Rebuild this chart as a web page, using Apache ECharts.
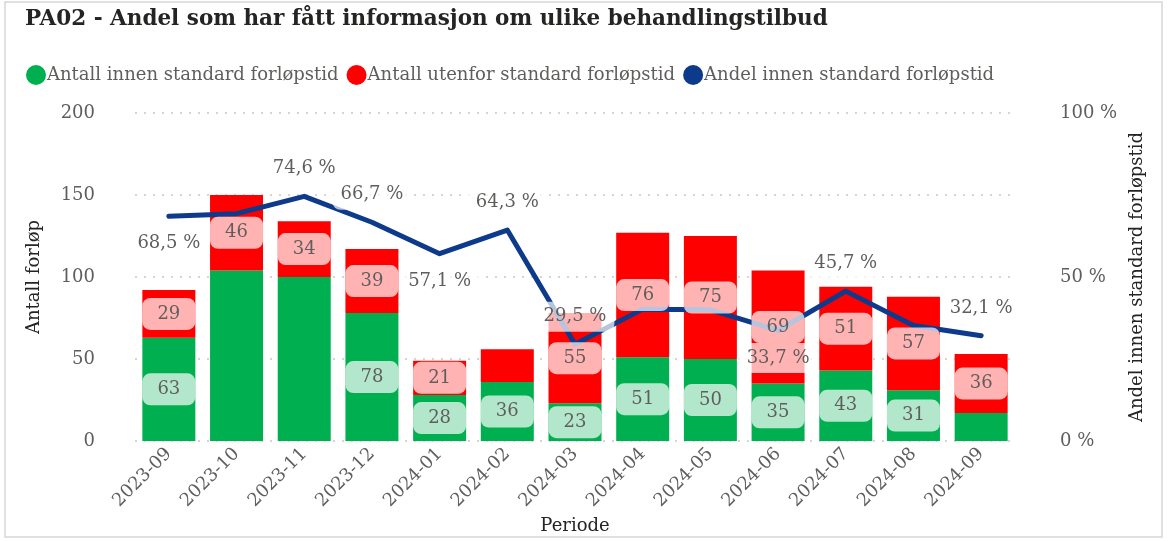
<!DOCTYPE html>
<html>
<head>
<meta charset="utf-8">
<script src="https://cdn.jsdelivr.net/npm/echarts@6/dist/echarts.min.js"></script>
<style>
  html, body { margin: 0; padding: 0; background: #fff; }
  #main { width: 1170px; height: 541px; }
</style>
</head>
<body>
<div id="main"></div>
<script>
// data
const categories = ['2023-09', '2023-10', '2023-11', '2023-12', '2024-01', '2024-02', '2024-03',
  '2024-04', '2024-05', '2024-06', '2024-07', '2024-08', '2024-09'];
const innen = [63, 104, 100, 78, 28, 36, 23, 51, 50, 35, 43, 31, 17];
const utenfor = [29, 46, 34, 39, 21, 20, 55, 76, 75, 69, 51, 57, 36];
const andel = [68.5, 69.3, 74.6, 66.7, 57.1, 64.3, 29.5, 40.2, 40.0, 33.7, 45.7, 35.2, 32.1];
const leftTicks = [0, 50, 100, 150, 200];
const rightTicks = [0, 50, 100];

// which labels the original shows (overlapping ones are hidden)
const innenHidden = ['2023-10', '2023-11', '2024-09'];
const utenforHidden = ['2024-02'];
const andelLabelPos = ['bottom', null, 'top', 'top', 'bottom', 'top', 'top',
  null, null, 'bottom', 'top', null, 'top'];

const FONT = '"DejaVu Serif", serif';
const FS = 18;
const GREY = '#605e5c';
const GREEN = '#00b050';
const RED = '#ff0000';
const BLUE = '#0e3a8c';

const boxLabel = {
  show: true,
  position: 'inside',
  fontFamily: FONT,
  fontSize: FS,
  color: GREY,
  backgroundColor: 'rgba(255,255,255,0.7)',
  borderRadius: 8,
  width: 53,
  height: 32,
  lineHeight: 32,
  align: 'center',
  verticalAlign: 'middle'
};

function barData(values, hidden) {
  return values.map((v, i) => ({
    value: v,
    label: { show: hidden.indexOf(categories[i]) < 0 }
  }));
}

let chart = echarts.init(document.getElementById('main'));

let option = {
  animation: false,
  textStyle: { fontFamily: FONT },
  title: {
    text: 'PA02 - Andel som har fått informasjon om ulike behandlingstilbud',
    left: 20,
    top: 3,
    textStyle: { fontFamily: FONT, fontSize: 21.5, fontWeight: 'bold', color: '#252423' }
  },
  legend: {
    left: 21,
    top: 60,
    icon: 'circle',
    itemWidth: 20,
    itemHeight: 20,
    itemGap: 8,
    textStyle: { fontFamily: FONT, fontSize: FS, color: GREY, padding: [0, 0, 0, -4] },
    data: ['Antall innen standard forløpstid', 'Antall utenfor standard forløpstid', 'Andel innen standard forløpstid']
  },
  graphic: [{
    type: 'rect',
    shape: { x: 5, y: 2, width: 1157, height: 535 },
    style: { fill: 'none', stroke: '#d6d6d6', lineWidth: 1.5 },
    silent: true
  }],
  grid: { left: 135, right: 155, top: 113, bottom: 100 },
  xAxis: {
    type: 'category',
    data: categories,
    name: 'Periode',
    nameLocation: 'middle',
    nameGap: 70,
    nameTextStyle: { fontFamily: FONT, fontSize: FS, color: '#252423' },
    axisLine: { show: false },
    axisTick: { show: false },
    axisLabel: { rotate: 45, fontFamily: FONT, fontSize: FS, color: GREY, margin: 10 }
  },
  yAxis: [{
    type: 'value',
    min: leftTicks[0],
    max: leftTicks[leftTicks.length - 1],
    interval: 50,
    name: 'Antall forløp',
    nameLocation: 'middle',
    nameGap: 92,
    nameTextStyle: { fontFamily: FONT, fontSize: FS, color: '#252423' },
    axisLabel: { fontFamily: FONT, fontSize: FS, color: GREY, margin: 40 },
    splitLine: { lineStyle: { type: [2, 7], color: '#c8c8c8', width: 1.5 } }
  }, {
    type: 'value',
    min: rightTicks[0],
    max: rightTicks[rightTicks.length - 1],
    interval: 50,
    name: 'Andel innen standard forløpstid',
    nameLocation: 'middle',
    nameGap: 112,
    nameTextStyle: { fontFamily: FONT, fontSize: FS, color: '#252423' },
    axisLabel: { formatter: '{value} %', fontFamily: FONT, fontSize: FS, color: GREY, margin: 45 },
    splitLine: { show: false }
  }],
  series: [{
    name: 'Antall innen standard forløpstid',
    type: 'bar',
    stack: 'antall',
    barWidth: 53,
    itemStyle: { color: GREEN },
    data: innen,
    z: 2
  }, {
    name: 'Antall utenfor standard forløpstid',
    type: 'bar',
    stack: 'antall',
    barWidth: 53,
    itemStyle: { color: RED },
    data: utenfor,
    z: 2
  }, {
    name: 'Andel innen standard forløpstid',
    type: 'line',
    yAxisIndex: 1,
    data: andel.map((v, i) => ({
      value: v,
      label: andelLabelPos[i] ? { show: true, position: andelLabelPos[i] } : { show: false }
    })),
    symbol: 'circle',
    symbolSize: 1,
    lineStyle: { color: BLUE, width: 5, cap: 'round', join: 'round' },
    itemStyle: { color: BLUE },
    label: {
      show: true,
      distance: 12,
      formatter: p => p.value.toFixed(1).replace('.', ',') + ' %',
      fontFamily: FONT,
      fontSize: FS,
      color: GREY,
      backgroundColor: 'rgba(255,255,255,0.7)',
      borderRadius: 8,
      padding: [6, 8]
    },
    z: 3
  }, {
    // label-only copies of the bars, drawn above the line
    name: 'innen-labels',
    type: 'bar',
    stack: 'labels',
    barWidth: 53,
    barGap: '-100%',
    itemStyle: { color: 'rgba(0,0,0,0)' },
    label: boxLabel,
    data: barData(innen, innenHidden),
    silent: true,
    z: 4
  }, {
    name: 'utenfor-labels',
    type: 'bar',
    stack: 'labels',
    barWidth: 53,
    barGap: '-100%',
    itemStyle: { color: 'rgba(0,0,0,0)' },
    label: boxLabel,
    data: barData(utenfor, utenforHidden),
    silent: true,
    z: 4
  }]
};

chart.setOption(option);
</script>
</body>
</html>
